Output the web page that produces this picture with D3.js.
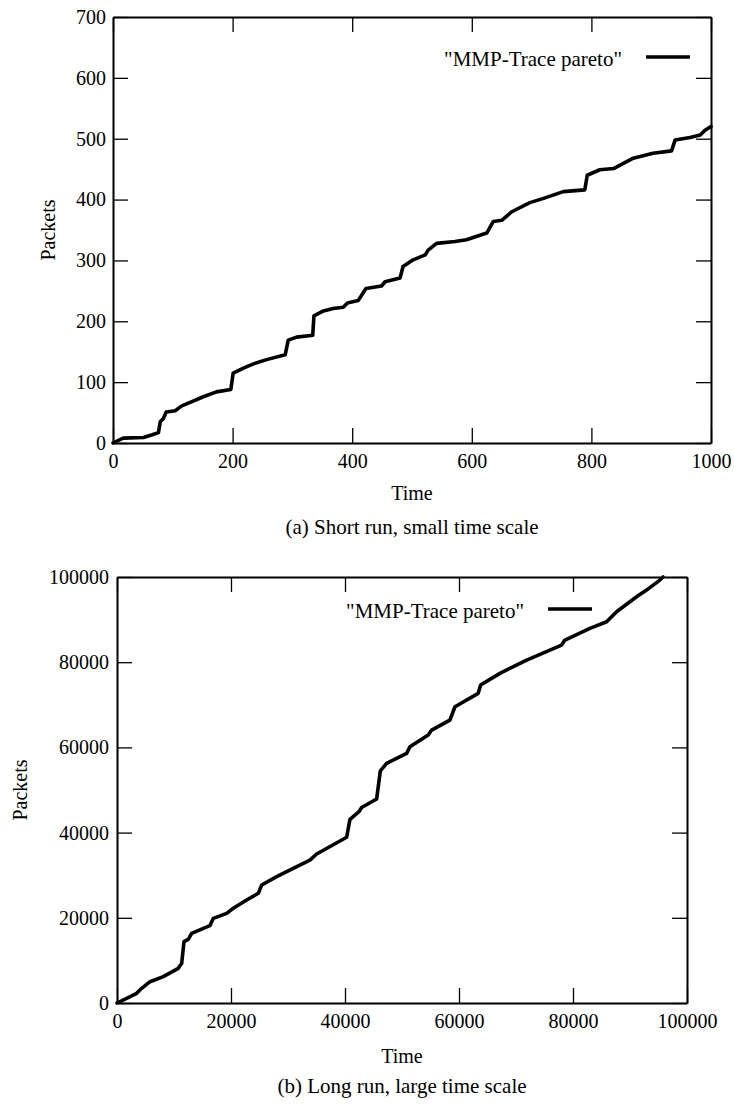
<!DOCTYPE html>
<html>
<head>
<meta charset="utf-8">
<script src="https://cdn.jsdelivr.net/npm/d3@7"></script>
<style>
  body { margin: 0; background: #fff; }
  svg text { font-family: "Liberation Serif", "DejaVu Serif", "Times New Roman", Times, serif; fill: #000; }
  .axis path, .axis line { stroke: #000; }
</style>
</head>
<body>
<div id="chart"></div>
<script>
// data

// (a) short run
var shortTime = [0, 17, 51, 67, 76, 79, 84, 89, 104, 115, 132, 151, 173, 197, 201, 218, 235, 257, 288, 293,
  307, 334, 336, 352, 368, 385, 392, 410, 423, 449, 455, 480, 485, 502, 522, 527, 541, 572, 591, 625,
  636, 650, 667, 697, 720, 753, 789, 793, 814, 837, 870, 903, 934, 940, 965, 982, 990, 1000];
var shortPackets = [0, 8, 9, 14, 17, 35, 40, 51, 53, 61, 68, 76, 84, 88, 115, 123, 130, 137, 145, 169,
  174, 177, 209, 217, 221, 223, 230, 234, 254, 258, 265, 271, 290, 301, 309, 317, 328, 331, 334, 345,
  364, 366, 380, 395, 402, 413, 416, 440, 449, 451, 468, 476, 480, 498, 502, 506, 514, 520];
var shortXTicks = [0, 200, 400, 600, 800, 1000];
var shortYTicks = [0, 100, 200, 300, 400, 500, 600, 700];

// (b) long run
var longTime = [0, 1700, 3450, 4330, 5790, 8120, 10750, 11350, 11750, 12500, 13100, 16300, 16900, 19240,
  20400, 22750, 24790, 25380, 28010, 30920, 33850, 35030, 40290, 40870, 42500, 42920, 45550, 46200,
  47300, 50810, 51390, 54600, 55200, 58400, 59290, 63370, 63790, 67180, 71860, 78000, 78580, 82970,
  85900, 87650, 91150, 92900, 95240, 95800];
var longPackets = [0, 1100, 2270, 3450, 5000, 6180, 8140, 9320, 14400, 14950, 16360, 18150, 19870, 21050,
  22230, 24180, 25750, 27690, 29650, 31610, 33560, 34970, 38900, 43100, 45000, 45900, 47900, 54500,
  56250, 58600, 60150, 62900, 64070, 66420, 69540, 72690, 74630, 77380, 80500, 84020, 85200, 87940,
  89500, 91840, 95360, 96930, 99280, 100000];
var longXTicks = [0, 20000, 40000, 60000, 80000, 100000];
var longYTicks = [0, 20000, 40000, 60000, 80000, 100000];

var seriesName = "\"MMP-Trace pareto\"";
var serif = "'Liberation Serif', 'DejaVu Serif', 'Times New Roman', Times, serif";

var svgWidth = 734;
var svgHeight = 1106;

var svg = d3.select("#chart")
  .append("svg")
  .attr("width", svgWidth)
  .attr("height", svgHeight)
  .attr("font-family", serif);

function drawChart(cfg) {
  var width = cfg.right - cfg.left;
  var height = cfg.bottom - cfg.top;

  var g = svg.append("g")
    .attr("transform", `translate(${cfg.left}, ${cfg.top})`);

  var x = d3.scaleLinear()
    .domain([0, d3.max(cfg.xTicks)])
    .range([0, width]);

  var y = d3.scaleLinear()
    .domain([0, d3.max(cfg.yTicks)])
    .range([height, 0]);

  var fmt = d3.format("d");

  // four sided frame, ticks pointing in
  g.append("g")
    .attr("class", "axis")
    .attr("transform", `translate(0, ${height})`)
    .call(d3.axisBottom(x).tickValues(cfg.xTicks).tickFormat(fmt)
      .tickSizeInner(-15).tickSizeOuter(0).tickPadding(11));

  g.append("g")
    .attr("class", "axis")
    .call(d3.axisTop(x).tickValues(cfg.xTicks).tickSizeInner(-15).tickSizeOuter(0).tickFormat(""));

  g.append("g")
    .attr("class", "axis")
    .call(d3.axisLeft(y).tickValues(cfg.yTicks).tickFormat(fmt)
      .tickSizeInner(-15).tickSizeOuter(0).tickPadding(cfg.yPad));

  g.append("g")
    .attr("class", "axis")
    .attr("transform", `translate(${width}, 0)`)
    .call(d3.axisRight(y).tickValues(cfg.yTicks).tickSizeInner(-15).tickSizeOuter(0).tickFormat(""));

  g.selectAll(".axis").attr("font-family", serif).attr("font-size", 20);
  g.selectAll(".axis path").attr("stroke-width", 2);
  g.selectAll(".axis line").attr("stroke-width", 1.3);

  // the trace
  var points = cfg.xs.map((t, i) => [t, cfg.ys[i]]);
  g.append("path")
    .datum(points)
    .attr("fill", "none")
    .attr("stroke", "#000")
    .attr("stroke-width", 3.6)
    .attr("stroke-linejoin", "round")
    .attr("stroke-linecap", "round")
    .attr("d", d3.line().x(d => x(d[0])).y(d => y(d[1])));

  // legend
  svg.append("text")
    .attr("x", cfg.legendX)
    .attr("y", cfg.legendY)
    .attr("text-anchor", "end")
    .attr("font-size", 21)
    .text(seriesName);

  svg.append("line")
    .attr("x1", cfg.legendX + 24)
    .attr("x2", cfg.legendX + 68)
    .attr("y1", cfg.legendY - 9)
    .attr("y2", cfg.legendY - 9)
    .attr("stroke", "#000")
    .attr("stroke-width", 3.6);

  // axis labels
  svg.append("text")
    .attr("transform", `translate(${cfg.yLabelX}, ${cfg.top + height / 2}) rotate(-90)`)
    .attr("text-anchor", "middle")
    .attr("dy", "0.35em")
    .attr("font-size", 20)
    .text("Packets");

  svg.append("text")
    .attr("x", cfg.left + width / 2)
    .attr("y", cfg.timeY)
    .attr("text-anchor", "middle")
    .attr("font-size", 20)
    .text("Time");

  svg.append("text")
    .attr("x", cfg.left + width / 2)
    .attr("y", cfg.captionY)
    .attr("text-anchor", "middle")
    .attr("font-size", 21)
    .text(cfg.caption);
}

drawChart({
  xs: shortTime, ys: shortPackets, xTicks: shortXTicks, yTicks: shortYTicks,
  left: 113, right: 711, top: 17, bottom: 443, yPad: 7,
  legendX: 622, legendY: 66, yLabelX: 48, timeY: 500, captionY: 534,
  caption: "(a) Short run, small time scale"
});

drawChart({
  xs: longTime, ys: longPackets, xTicks: longXTicks, yTicks: longYTicks,
  left: 117, right: 687, top: 577, bottom: 1003, yPad: 8,
  legendX: 524, legendY: 618, yLabelX: 20, timeY: 1063, captionY: 1093,
  caption: "(b) Long run, large time scale"
});
</script>
</body>
</html>
